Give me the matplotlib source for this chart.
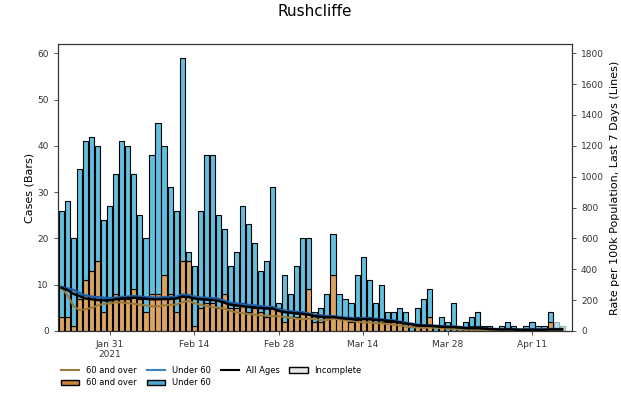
"""
Rushcliffe: daily cases by age band (bars) with 7-day rate per 100k (lines).
"""
import matplotlib
matplotlib.use("Agg")
import matplotlib.pyplot as plt
import matplotlib.dates as mdates
from matplotlib.patches import Patch
from matplotlib.lines import Line2D
import numpy as np
import pandas as pd

dates = pd.date_range("2021-01-23", "2021-04-16", freq="D")

# daily cases, all ages (bar height) and the 60+ part of it
cases_total = [26, 28, 20, 35, 41, 42, 40, 24, 27, 34, 41, 40, 34, 25,
               20, 38, 45, 40, 31, 26, 59, 17, 14, 26, 38, 38, 25, 22,
               14, 17, 27, 23, 19, 13, 15, 31, 6, 12, 8, 14, 20, 20,
               4, 5, 8, 21, 8, 7, 6, 12, 16, 11, 6, 10, 4, 4,
               5, 4, 1, 5, 7, 9, 1, 3, 2, 6, 1, 2, 3, 4,
               1, 1, 0, 1, 2, 1, 0, 1, 2, 1, 1, 4, 2, 1]
cases_60plus = [3, 3, 1, 7, 11, 13, 15, 4, 6, 8, 7, 7, 9, 7,
                4, 8, 8, 12, 8, 4, 15, 15, 1, 5, 6, 6, 5, 8,
                5, 5, 6, 4, 5, 4, 3, 5, 5, 2, 3, 3, 4, 9,
                2, 2, 3, 12, 3, 3, 2, 3, 3, 3, 2, 2, 2, 2,
                2, 1, 0, 1, 1, 3, 0, 1, 0, 0, 0, 0, 1, 1,
                0, 0, 0, 0, 0, 0, 0, 0, 0, 0, 0, 2, 0, 0]
cases_under60 = [t - o for t, o in zip(cases_total, cases_60plus)]

# 7-day rate per 100k population
rate_all = [280, 265, 240, 225, 210, 205, 200, 198, 198, 205, 210, 213, 215, 213,
            208, 205, 205, 207, 207, 210, 222, 220, 210, 205, 203, 200, 195, 183,
            170, 165, 160, 155, 152, 148, 145, 145, 130, 122, 118, 113, 110, 105,
            95, 92, 88, 90, 85, 80, 78, 72, 77, 75, 72, 70, 65, 62,
            55, 48, 42, 36, 33, 33, 30, 27, 25, 25, 22, 18, 18, 18,
            15, 12, 10, 9, 10, 9, 7, 7, 8, 7, 7, 10, 10, 10]
rate_60plus = [280, 230, 160, 135, 140, 150, 165, 175, 180, 185, 185, 180, 175, 170,
               165, 160, 160, 165, 170, 170, 185, 195, 180, 170, 160, 155, 150, 145,
               130, 120, 115, 110, 105, 100, 100, 95, 95, 90, 85, 80, 75, 80,
               75, 70, 70, 80, 75, 70, 65, 60, 55, 55, 50, 50, 45, 40,
               35, 30, 25, 22, 20, 22, 20, 18, 15, 12, 10, 8, 8, 7,
               6, 5, 4, 3, 3, 2, 2, 2, 2, 2, 2, 5, 5, 5]
rate_under60 = [285, 275, 265, 245, 230, 222, 218, 215, 212, 215, 220, 222, 225, 222,
                218, 216, 216, 218, 218, 220, 235, 232, 222, 216, 214, 212, 208, 195,
                182, 178, 172, 168, 165, 160, 155, 155, 140, 132, 128, 123, 120, 112,
                102, 100, 95, 95, 90, 85, 83, 77, 83, 80, 78, 75, 70, 68,
                60, 53, 47, 40, 37, 36, 33, 30, 28, 28, 25, 21, 20, 20,
                17, 14, 12, 11, 12, 11, 9, 9, 10, 9, 9, 12, 12, 12]

N_INCOMPLETE = 2
tick_dates = ["2021-01-31", "2021-02-14", "2021-02-28", "2021-03-14", "2021-03-28", "2021-04-11"]
tick_labels = ["Jan 31\n2021", "Feb 14", "Feb 28", "Mar 14", "Mar 28", "Apr 11"]

ORANGE = "#DBA360"
BLUE = "#62BFDF"
LINE_OLD = "#9C7A3C"
LINE_YOUNG = "#1F5FA8"

fig = plt.figure(figsize=(6.21, 3.93), dpi=100)
ax = fig.add_axes([0.093, 0.158, 0.828, 0.730])
ax2 = ax.twinx()

x = mdates.date2num(dates)
n_full = len(x) - N_INCOMPLETE
u60 = np.array(cases_under60)
o60 = np.array(cases_60plus)

ax.bar(x[:n_full], o60[:n_full], width=0.85, color=ORANGE, edgecolor="black", linewidth=0.8)
ax.bar(x[:n_full], u60[:n_full], bottom=o60[:n_full], width=0.85, color=BLUE,
       edgecolor="black", linewidth=0.8)
ax.bar(x[n_full:], o60[n_full:], width=0.85, color=ORANGE, alpha=0.45,
       edgecolor="#555555", linewidth=0.8)
ax.bar(x[n_full:], u60[n_full:], bottom=o60[n_full:], width=0.85, color=BLUE, alpha=0.45,
       edgecolor="#555555", linewidth=0.8)

ax2.plot(x, rate_60plus, color=LINE_OLD, linewidth=1.5)
ax2.plot(x, rate_under60, color=LINE_YOUNG, linewidth=1.8)
ax2.plot(x, rate_all, color="black", linewidth=1.8)

ax.set_xlim(mdates.date2num(pd.Timestamp("2021-01-22 09:00")),
            mdates.date2num(pd.Timestamp("2021-04-17 15:00")))
ax.set_ylim(0, 62)
ax2.set_ylim(0, 1860)
ax.set_yticks(range(0, 61, 10))
ax2.set_yticks(range(0, 1801, 200))
ax.set_xticks(mdates.date2num(pd.to_datetime(tick_dates)))
ax.set_xticklabels(tick_labels)

for a in (ax, ax2):
    a.tick_params(labelsize=6.5, length=3, width=0.6, colors="#333333")
    for s in a.spines.values():
        s.set_linewidth(0.8)
        s.set_color("#333333")

ax.set_ylabel("Cases (Bars)", fontsize=8, labelpad=2)
ax2.set_ylabel("Rate per 100k Population, Last 7 Days (Lines)", fontsize=8, labelpad=4)
ax.set_title("Rushcliffe", fontsize=11, pad=20)

handles = [
    Line2D([], [], color=LINE_OLD, linewidth=1.5, label="60 and over"),
    Patch(facecolor="#C8853A", edgecolor="black", label="60 and over"),
    Line2D([], [], color="#3B82C4", linewidth=1.5, label="Under 60"),
    Patch(facecolor="#4FA9CF", edgecolor="black", label="Under 60"),
    Line2D([], [], color="black", linewidth=1.5, label="All Ages"),
    Patch(facecolor="#E6E6E6", edgecolor="black", label="Incomplete"),
]
fig.legend(handles=handles, ncol=4, loc="upper left", bbox_to_anchor=(0.093, 0.078),
           frameon=False, fontsize=6, handlelength=2.2, columnspacing=1.2,
           handletextpad=0.8, labelspacing=0.45, borderaxespad=0)

fig.savefig("out.png", dpi=100)
